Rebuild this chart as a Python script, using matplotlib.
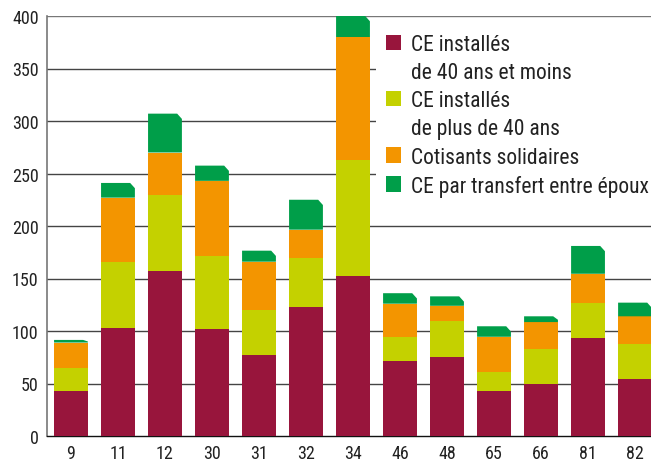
import matplotlib
matplotlib.use("Agg")
import matplotlib.pyplot as plt
from matplotlib.patches import Polygon, Patch
import numpy as np

plt.rcParams['font.family'] = ['Roboto Condensed', 'DejaVu Sans']

categories = ['9', '11', '12', '30', '31', '32', '34', '46', '48', '65', '66', '81', '82']
ce_40_moins = [43, 103, 157, 102, 77, 123, 152, 71, 75.5, 43, 49.5, 93, 54]
ce_plus_40 = [22, 63, 72.5, 69.5, 43, 46.5, 111, 23.5, 34.5, 18, 33.5, 34, 33.5]
cotisants = [24, 61, 40.5, 71.5, 46, 27, 117, 31.5, 14, 33.5, 25.5, 27.5, 26.5]
transfert = [2.5, 14, 37, 14.5, 10.5, 28.5, 20, 10, 9, 10, 5.5, 26.5, 13]
series_labels = ['CE installés\nde 40 ans et moins', 'CE installés\nde plus de 40 ans',
                 'Cotisants solidaires', 'CE par transfert entre époux']
colors = ['#98153C', '#C4D100', '#F39500', '#009E49']
yticks = [0, 50, 100, 150, 200, 250, 300, 350, 400]

fig = plt.figure(figsize=(6.51, 4.64), dpi=100)
ax = fig.add_axes([47/651, 1 - 437/464, 1 - 47/651, (437 - 17)/464])

x = np.arange(len(categories))
width = 0.72
bottom = np.zeros(len(categories))
series = [ce_40_moins, ce_plus_40, cotisants, transfert]
for i, (vals, col) in enumerate(zip(series, colors)):
    vals = np.array(vals, dtype=float)
    bars = ax.bar(x, vals, width, bottom=bottom, color=col, zorder=3, linewidth=0)
    if i == len(series) - 1:
        # chamfered top-right corner
        for b in bars:
            x0, y0, w, h = b.get_x(), b.get_y(), b.get_width(), b.get_height()
            b.set_visible(False)
            cx = w * 0.14
            cy = min(5.0, h * 0.6)
            poly = Polygon([(x0, y0), (x0 + w, y0), (x0 + w, y0 + h - cy),
                            (x0 + w - cx, y0 + h), (x0, y0 + h)], closed=True,
                           facecolor=col, edgecolor='none', zorder=3, clip_on=False)
            ax.add_patch(poly)
    bottom = bottom + vals

ax.set_xlim(-0.51, 12.34)
ax.set_ylim(0, 400)
ax.set_yticks(yticks)
ax.set_yticklabels([str(t) for t in yticks], fontsize=13, color='#222222')
ax.set_xticks(x)
ax.set_xticklabels(categories, fontsize=13, color='#222222')
ax.tick_params(axis='x', length=0, pad=6)
ax.tick_params(axis='y', length=0, pad=6)

for t in yticks[1:]:
    ax.axhline(t, color='#444444' if t < 400 else '#777777', lw=1.0, zorder=1)

for s in ['top', 'right']:
    ax.spines[s].set_visible(False)
ax.spines['left'].set_color('#777777')
ax.spines['left'].set_linewidth(1.2)
ax.spines['bottom'].set_color('#111111')
ax.spines['bottom'].set_linewidth(1.0)

# legend: one row per text line, swatch only on the first line of each label
handles, texts = [], []
for lab, c in zip(series_labels, colors):
    for k, line in enumerate(lab.split('\n')):
        handles.append(Patch(facecolor=c if k == 0 else 'none', edgecolor='none'))
        texts.append(line)
leg = ax.legend(handles, texts, loc='upper left', bbox_to_anchor=(0.545, 0.98),
                frameon=True, fontsize=15.5, handlelength=0.72, handleheight=0.72,
                handletextpad=0.45, labelspacing=0.33, borderpad=0.45, borderaxespad=0)
leg.get_frame().set_facecolor('white')
leg.get_frame().set_edgecolor('none')
leg.get_frame().set_alpha(1)
leg.set_zorder(5)
for t in leg.get_texts():
    t.set_color('#222222')

fig.savefig('out.png', dpi=100)
